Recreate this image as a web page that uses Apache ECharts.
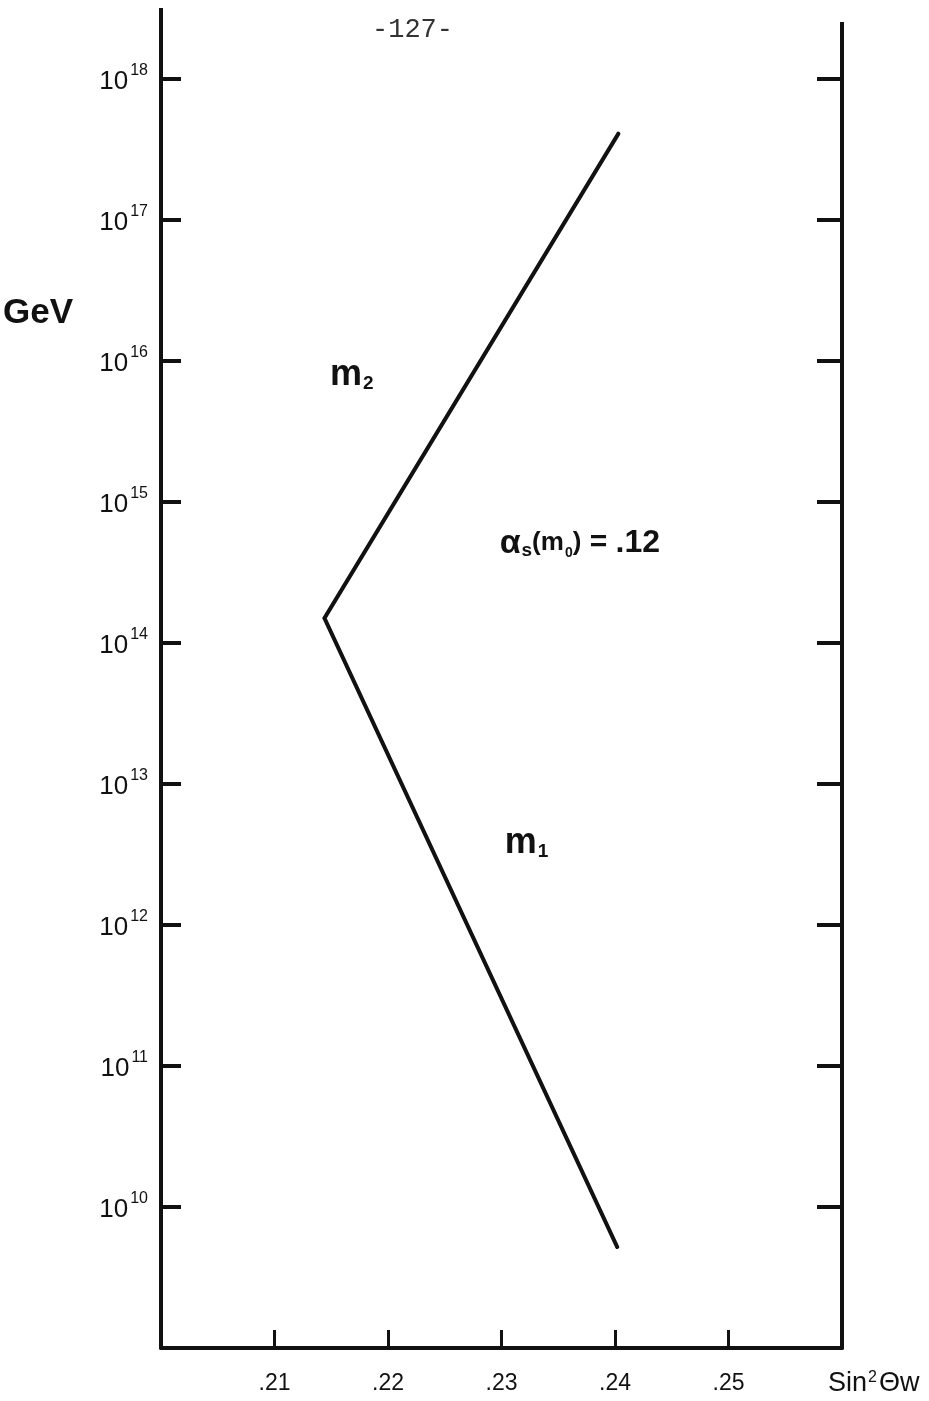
<!DOCTYPE html>
<html>
<head>
<meta charset="utf-8">
<title>sin2 theta w vs mass scale</title>
<script src="https://cdn.jsdelivr.net/npm/echarts@6/dist/echarts.min.js"></script>
<style>
  html, body { margin: 0; padding: 0; background: #fff; }
  #chart { width: 929px; height: 1401px; }
</style>
</head>
<body>
<div id="chart"></div>
<script>
// sin^2 theta_W at each turning point of the curve
const sinData = [0.2403, 0.2144, 0.2402]
// mass scale in GeV at the same points
const gevData = [4.1e17, 1.5e14, 5.2e9]
// bottom tick labels (.20 and .26 sit in the corners and are not written)
const xTickLabels = { '0.21': '.21', '0.22': '.22', '0.23': '.23', '0.24': '.24', '0.25': '.25' }
// region labels inside the plot: [sin2, GeV, text]
const regionLabels = [
  [0.2168, 7.9e15, '{m|m}{sub|2}'],
  [0.2322, 3.8e12, '{m|m}{sub|1}'],
  [0.2369, 5.1e14, '{a|α}{sub|s}{p|(m}{sub0|0}{p|)}{e| = }{v|.12}']
]

const chart = echarts.init(document.getElementById('chart'))
const ink = '#111'

const yTickLabel = function (value) {
  const exp = Math.round(Math.log10(value))
  if (exp <= 9) {
    return ''
  }
  return '{b|10}{s|' + exp + '}'
}

const options = {
  animation: false,
  backgroundColor: '#fff',
  grid: {
    left: 161,
    right: 87,
    top: 79,
    bottom: 53,
    outerBoundsMode: 'none'
  },
  graphic: [
    {
      type: 'text',
      left: 3,
      top: 296,
      style: {
        text: 'GeV',
        fill: ink,
        font: 'bold 35px "Liberation Sans", Arial, sans-serif'
      }
    },
    {
      type: 'text',
      left: 372,
      top: 16,
      style: {
        text: '-127-',
        fill: '#333',
        font: '27px "Liberation Mono", "DejaVu Sans Mono", monospace'
      }
    }
  ],
  xAxis: {
    type: 'value',
    min: 0.20,
    max: 0.26,
    interval: 0.01,
    name: 'Sin{sup|2}Θw',
    nameLocation: 'end',
    nameGap: -14,
    nameTextStyle: {
      verticalAlign: 'top',
      padding: [22, 0, 0, 0],
      color: ink,
      fontSize: 27,
      fontFamily: 'Liberation Sans',
      rich: {
        sup: { fontSize: 16, verticalAlign: 'top', padding: [0, 2, 10, 1], color: ink }
      }
    },
    axisLine: {
      lineStyle: { color: ink, width: 4 }
    },
    axisTick: {
      inside: true,
      length: 18,
      lineStyle: { color: ink, width: 3 }
    },
    axisLabel: {
      margin: 24,
      color: ink,
      fontSize: 23,
      fontFamily: 'Liberation Sans',
      formatter: function (value) {
        return xTickLabels[value.toFixed(2)] || ''
      }
    },
    splitLine: { show: false }
  },
  yAxis: [
    {
      type: 'log',
      logBase: 10,
      min: 1e9,
      max: 1e18,
      interval: 1,
      position: 'left',
      axisLine: {
        show: true,
        symbol: ['none', 'rect'],
        symbolSize: [4, 71],
        symbolOffset: [0, 35.5],
        lineStyle: { color: ink, width: 4 }
      },
      axisTick: {
        show: true,
        inside: true,
        length: 20,
        lineStyle: { color: ink, width: 4 }
      },
      axisLabel: {
        margin: 13,
        color: ink,
        formatter: yTickLabel,
        rich: {
          b: { fontSize: 26, fontFamily: 'Liberation Sans', color: ink, verticalAlign: 'bottom' },
          s: { fontSize: 16, fontFamily: 'Liberation Sans', color: ink, verticalAlign: 'top', padding: [0, 0, 16, 2] }
        }
      },
      splitLine: { show: false },
      minorTick: { show: false }
    },
    {
      type: 'log',
      logBase: 10,
      min: 1e9,
      max: 1e18,
      interval: 1,
      position: 'right',
      axisLine: {
        show: true,
        symbol: ['none', 'rect'],
        symbolSize: [4, 57],
        symbolOffset: [0, 28.5],
        lineStyle: { color: ink, width: 4 }
      },
      axisTick: {
        show: true,
        inside: true,
        length: 25,
        lineStyle: { color: ink, width: 4 }
      },
      axisLabel: { show: false },
      splitLine: { show: false }
    }
  ],
  series: [
    {
      name: 'sin2',
      type: 'line',
      symbol: 'none',
      lineStyle: {
        color: ink,
        width: 4,
        cap: 'round',
        join: 'miter'
      },
      data: sinData.map(function (s, i) { return [s, gevData[i]] })
    },
    {
      name: 'labels',
      type: 'scatter',
      symbolSize: 0,
      silent: true,
      itemStyle: { opacity: 1 },
      label: {
        show: true,
        position: 'inside',
        color: ink,
        formatter: function (p) { return p.data[2] },
        rich: {
          m: { fontSize: 36, fontWeight: 'bold', fontFamily: 'Liberation Sans', color: ink },
          sub: { fontSize: 19, fontWeight: 'bold', fontFamily: 'Liberation Sans', color: ink, verticalAlign: 'bottom', padding: [14, 0, 0, 1] },
          sub0: { fontSize: 14, fontWeight: 'bold', fontFamily: 'Liberation Sans', color: ink, verticalAlign: 'bottom', padding: [12, 0, 0, 1] },
          a: { fontSize: 34, fontWeight: 'bold', fontFamily: 'Liberation Sans', color: ink },
          p: { fontSize: 26, fontWeight: 'bold', fontFamily: 'Liberation Sans', color: ink },
          e: { fontSize: 30, fontWeight: 'bold', fontFamily: 'Liberation Sans', color: ink },
          v: { fontSize: 32, fontWeight: 'bold', fontFamily: 'Liberation Sans', color: ink }
        }
      },
      data: regionLabels
    }
  ]
}

chart.setOption(options)
</script>
</body>
</html>
